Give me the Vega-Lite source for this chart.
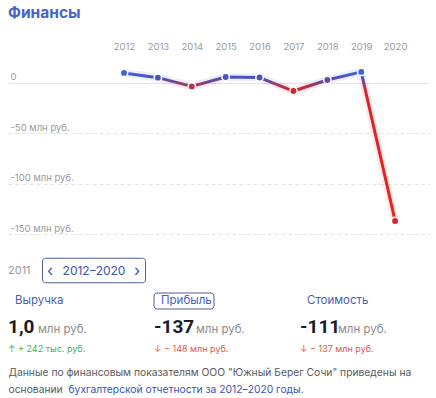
{
  "$schema": "https://vega.github.io/schema/vega-lite/v6.json",
  "padding": {"left": 8, "top": 5, "right": 0, "bottom": 0},
  "background": "white",
  "spacing": 0,
  "bounds": "flush",
  "config": {"view": {"stroke": null}, "font": "Inter"},
  "vconcat": [
    {
      "width": 422,
      "height": 190,
      "title": {"text": "Финансы", "anchor": "start", "font": "Inter", "fontSize": 15.5, "fontWeight": "bold", "color": "#4563c9", "offset": 20},
      "data": {"values": [
        {"year": 2012, "profit": 10},
        {"year": 2013, "profit": 5.3},
        {"year": 2014, "profit": -3.4},
        {"year": 2015, "profit": 6},
        {"year": 2016, "profit": 5.4},
        {"year": 2017, "profit": -8},
        {"year": 2018, "profit": 3},
        {"year": 2019, "profit": 11},
        {"year": 2020, "profit": -137}
      ]},
      "encoding": {
        "x": {"field": "year", "type": "quantitative",
          "scale": {"domain": [2008.576, 2021.03], "nice": false, "zero": false},
          "axis": {"orient": "top", "values": [2012, 2013, 2014, 2015, 2016, 2017, 2018, 2019, 2020], "format": "d", "domain": false, "ticks": false, "grid": false, "labelColor": "#9a9a9a", "labelFont": "Inter", "labelFontSize": 9.5, "labelPadding": 5, "labelFlush": false, "labelOverlap": false, "title": null}},
        "y": {"field": "profit", "type": "quantitative",
          "scale": {"domain": [-161.9, 26.8], "nice": false, "zero": false},
          "axis": {"values": [0, -50, -100, -150], "domain": false, "ticks": false, "grid": true, "gridColor": "#e4e4e4",
            "gridDash": {"condition": {"test": "datum.value === 0", "value": []}, "value": [4, 3]},
            "labelAlign": "left", "labelBaseline": "alphabetic", "labelPadding": -2, "labelOffset": -3,
            "labelColor": "#9a9a9a", "labelFont": "Inter", "labelFontSize": 9.5, "labelOverlap": false,
            "labelExpr": "datum.value === 0 ? '0' : datum.value + ' млн руб.'", "title": null}}
      },
      "layer": [
        {"mark": {"type": "line", "strokeWidth": 8, "opacity": 0.1, "strokeCap": "round", "strokeJoin": "round",
          "stroke": {"gradient": "linear", "x1": 0, "y1": 0, "x2": 0, "y2": 1, "stops": [
            {"offset": 0, "color": "#3d63de"}, {"offset": 0.04, "color": "#4b52b8"}, {"offset": 0.061, "color": "#6a4896"},
            {"offset": 0.095, "color": "#b8304e"}, {"offset": 0.13, "color": "#d9232d"}, {"offset": 1, "color": "#e8221e"}]}}},
        {"mark": {"type": "line", "strokeWidth": 3, "strokeCap": "round", "strokeJoin": "round",
          "stroke": {"gradient": "linear", "x1": 0, "y1": 0, "x2": 0, "y2": 1, "stops": [
            {"offset": 0, "color": "#3d63de"}, {"offset": 0.04, "color": "#4b52b8"}, {"offset": 0.061, "color": "#6a4896"},
            {"offset": 0.095, "color": "#b8304e"}, {"offset": 0.13, "color": "#d9232d"}, {"offset": 1, "color": "#e8221e"}]}}},
        {"mark": {"type": "point", "filled": true, "size": 55, "stroke": "white", "strokeWidth": 1.5, "opacity": 1},
          "encoding": {"fill": {"field": "profit", "type": "quantitative",
            "scale": {"domain": [-8, -3, 2, 5, 11], "range": ["#d9232d", "#b8304e", "#6a4896", "#4b52b8", "#3d63de"], "clamp": true},
            "legend": null}}}
      ]
    },
    {
      "width": 86,
      "height": 49,
      "data": {"values": [{"period": "2011", "current": false}, {"period": "2012–2020", "current": true}]},
      "encoding": {"x": {"field": "period", "type": "nominal", "scale": {"type": "point", "padding": 0, "domain": ["2011", "2012–2020"]}, "axis": null}},
      "layer": [
        {"transform": [{"filter": "!datum.current"}],
          "mark": {"type": "text", "align": "left", "baseline": "middle", "font": "Inter", "fontSize": 11, "color": "#9a9a9a"},
          "encoding": {"text": {"field": "period"}}},
        {"transform": [{"filter": "datum.current"}],
          "mark": {"type": "point", "shape": "M-9.7,-2.45H9.7A0.6,0.6 0 0 1 10.3,-1.85V1.85A0.6,0.6 0 0 1 9.7,2.45H-9.7A0.6,0.6 0 0 1 -10.3,1.85V-1.85A0.6,0.6 0 0 1 -9.7,-2.45Z", "size": 100, "filled": false, "stroke": "#4d6091", "strokeWidth": 1, "opacity": 1}},
        {"transform": [{"filter": "datum.current"}],
          "mark": {"type": "text", "align": "center", "baseline": "middle", "font": "Inter", "fontSize": 12, "color": "#3a55b0"},
          "encoding": {"text": {"field": "period"}}},
        {"transform": [{"filter": "datum.current"}],
          "mark": {"type": "text", "text": "‹", "dx": -44, "align": "center", "baseline": "middle", "font": "Inter", "fontSize": 16, "color": "#3a55b0"},
          "encoding": {}},
        {"transform": [{"filter": "datum.current"}],
          "mark": {"type": "text", "text": "›", "dx": 43, "align": "center", "baseline": "middle", "font": "Inter", "fontSize": 16, "color": "#3a55b0"},
          "encoding": {}}
      ]
    },
    {
      "width": 292,
      "height": 60,
      "data": {"values": [
        {"metric": "Выручка", "value": "1,0", "unit": "млн руб.", "change": "↑ + 242 тыс. руб.", "dir": "up", "selected": false},
        {"metric": "Прибыль", "value": "-137", "unit": "млн руб.", "change": "↓ − 148 млн руб.", "dir": "down", "selected": true},
        {"metric": "Стоимость", "value": "-111", "unit": "млн руб.", "change": "↓ − 137 млн руб.", "dir": "down", "selected": false}
      ]},
      "encoding": {"x": {"field": "metric", "type": "nominal", "scale": {"type": "point", "padding": 0, "domain": ["Выручка", "Прибыль", "Стоимость"]}, "axis": null}},
      "layer": [
        {"transform": [{"filter": "datum.selected"}],
          "mark": {"type": "point", "shape": "M0.3,-0.8H5.7A0.3,0.3 0 0 1 6,-0.5V0.5A0.3,0.3 0 0 1 5.7,0.8H0.3A0.3,0.3 0 0 1 0,0.5V-0.5A0.3,0.3 0 0 1 0.3,-0.8Z", "size": 400, "filled": false, "stroke": "#4d5f95", "strokeWidth": 1, "opacity": 1},
          "encoding": {"y": {"datum": "label", "type": "nominal", "scale": {"type": "point", "domain": ["label", "value", "change"], "padding": 0.25}, "axis": null}}},
        {"mark": {"type": "text", "align": "left", "baseline": "middle", "dx": 7, "font": "Inter", "fontSize": 11.5, "color": "#4a5fb8"},
          "encoding": {"y": {"datum": "label", "type": "nominal", "axis": null}, "text": {"field": "metric"}}},
        {"mark": {"type": "text", "align": "left", "baseline": "alphabetic", "dy": 8, "font": "Roboto", "fontSize": 19, "fontWeight": "bold", "color": "#1b1b2a"},
          "encoding": {"y": {"datum": "value", "type": "nominal", "axis": null}, "text": {"field": "value"}}},
        {"transform": [{"filter": "datum.metric === 'Выручка'"}],
          "mark": {"type": "text", "align": "left", "baseline": "alphabetic", "dy": 8, "dx": 30, "font": "Inter", "fontSize": 11.5, "color": "#8c8c8c"},
          "encoding": {"y": {"datum": "value", "type": "nominal", "axis": null}, "text": {"field": "unit"}}},
        {"transform": [{"filter": "datum.metric === 'Прибыль'"}],
          "mark": {"type": "text", "align": "left", "baseline": "alphabetic", "dy": 8, "dx": 42, "font": "Inter", "fontSize": 11.5, "color": "#8c8c8c"},
          "encoding": {"y": {"datum": "value", "type": "nominal", "axis": null}, "text": {"field": "unit"}}},
        {"transform": [{"filter": "datum.metric === 'Стоимость'"}],
          "mark": {"type": "text", "align": "left", "baseline": "alphabetic", "dy": 8, "dx": 38, "font": "Inter", "fontSize": 11.5, "color": "#8c8c8c"},
          "encoding": {"y": {"datum": "value", "type": "nominal", "axis": null}, "text": {"field": "unit"}}},
        {"mark": {"type": "text", "align": "left", "baseline": "middle", "font": "Inter", "fontSize": 9},
          "encoding": {"y": {"datum": "change", "type": "nominal", "axis": null}, "text": {"field": "change"},
            "color": {"field": "dir", "type": "nominal", "scale": {"domain": ["up", "down"], "range": ["#4caf50", "#e05555"]}, "legend": null}}}
      ]
    },
    {
      "width": 1,
      "height": 44,
      "data": {"values": [{"line1": "Данные по финансовым показателям ООО \"Южный Берег Сочи\" приведены на", "line2a": "основании", "line2b": "бухгалтерской отчетности за 2012–2020 годы."}]},
      "layer": [
        {"mark": {"type": "text", "align": "left", "baseline": "middle", "dy": -4, "font": "Inter", "fontSize": 10.3, "color": "#5a5a5a"},
          "encoding": {"text": {"field": "line1"}}},
        {"mark": {"type": "text", "align": "left", "baseline": "middle", "dy": 13, "font": "Inter", "fontSize": 10.3, "color": "#5a5a5a"},
          "encoding": {"text": {"field": "line2a"}}},
        {"mark": {"type": "text", "align": "left", "baseline": "middle", "dy": 13, "dx": 60, "font": "Inter", "fontSize": 10.3, "color": "#3a55b0"},
          "encoding": {"text": {"field": "line2b"}}}
      ]
    }
  ]
}
